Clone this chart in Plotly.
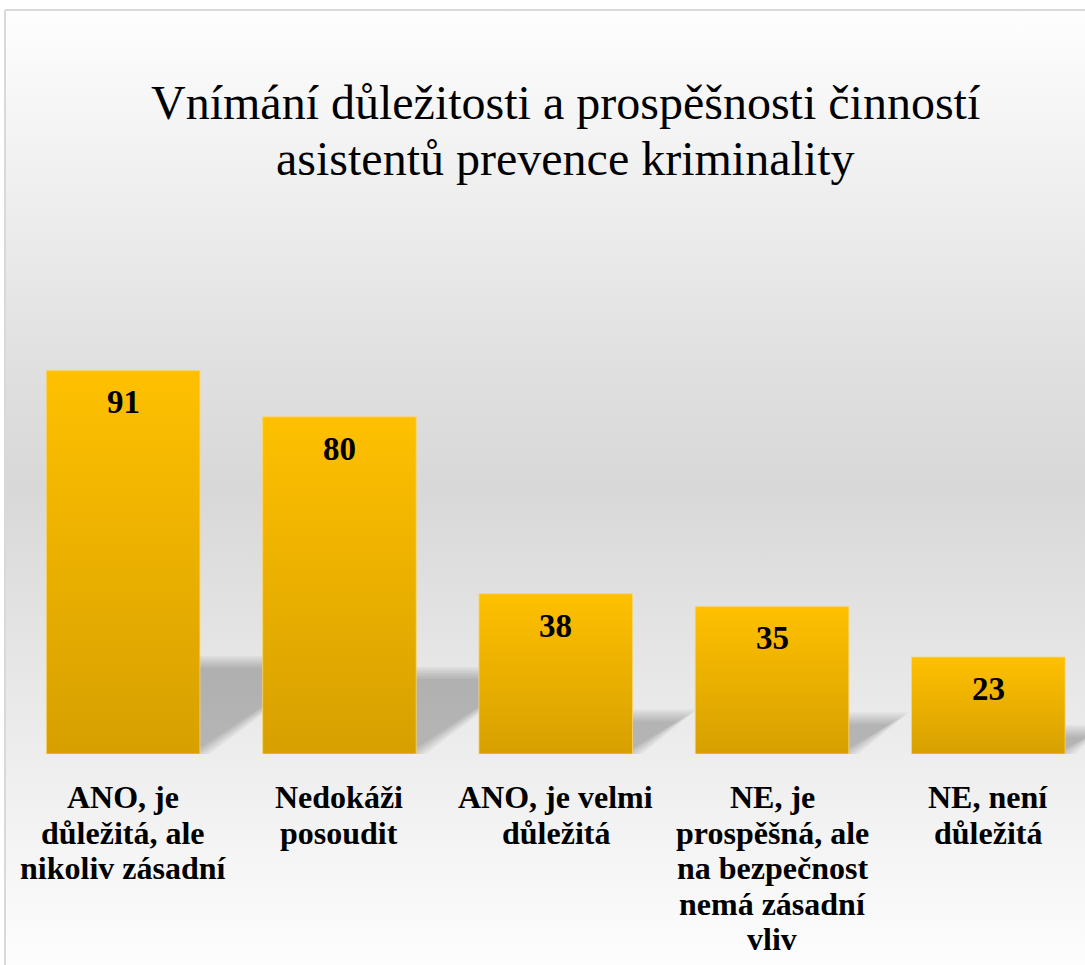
import plotly.graph_objects as go

# ---- data -------------------------------------------------------------
categories = [
    "ANO, je\ndůležitá, ale\nnikoliv zásadní",
    "Nedokáži\nposoudit",
    "ANO, je velmi\ndůležitá",
    "NE, je\nprospěšná, ale\nna bezpečnost\nnemá zásadní\nvliv",
    "NE, není\ndůležitá",
]
values = [91, 80, 38, 35, 23]
title_lines = [
    "Vnímání důležitosti a prospěšnosti činností",
    "asistentů prevence kriminality",
]

# ---- geometry / style -------------------------------------------------
W, H = 1085, 965
SERIF = "Liberation Serif, Times New Roman, serif"
BAR_W = 0.71                     # bar width in category units
X_RANGE = [-0.5, 4.447]          # last category partly clipped by the frame
Y_RANGE = [0, 100]
PX_PER_CAT = (W - 15) / (X_RANGE[1] - X_RANGE[0])
Y_DOM = [1 - 754 / H, 1 - (754 - 421.5) / H]
PX_PER_UNIT = (Y_DOM[1] - Y_DOM[0]) * H / (Y_RANGE[1] - Y_RANGE[0])

fig = go.Figure()

# soft grey backdrop of the chart area (gradient fill)
fig.add_trace(go.Scatter(
    x=[0, 1, 1, 0, 0], y=[0, 0, 1, 1, 0],
    xaxis="x", yaxis="y", mode="lines", line=dict(width=0),
    fill="toself",
    fillgradient=dict(type="vertical", colorscale=[
        [0.00, "#fdfdfd"],
        [0.21, "#eeeeee"],
        [0.33, "#e5e5e5"],
        [0.50, "#d8d8d8"],
        [0.63, "#e0e0e0"],
        [0.80, "#eeeeee"],
        [1.00, "#fefefe"],
    ]),
    hoverinfo="skip", showlegend=False,
))

# perspective shadows cast behind each bar (stacked layers = blurred edge)
N_LAYERS = 7
BLUR_PX = 6
for i, v in enumerate(values):
    xl, xr = i - BAR_W / 2, i + BAR_W / 2
    h_px = v * PX_PER_UNIT
    dx = 0.34 * h_px / PX_PER_CAT
    top = 0.24 * v
    for k in range(N_LAYERS):
        e = BLUR_PX * (1 - 2 * k / (N_LAYERS - 1))   # +r .. -r
        ex = 1.6 * e / PX_PER_CAT
        ey = e / PX_PER_UNIT
        xs = [xl, xr + ex, xr + dx + ex, xl + dx, xl]
        ys = [0, 0, top + ey, top + ey, 0]
        fig.add_trace(go.Scatter(
            x=xs, y=ys, xaxis="x2", yaxis="y2", mode="lines",
            line=dict(width=0), fill="toself",
            fillcolor="rgba(70,70,70,0.055)",
            hoverinfo="skip", showlegend=False,
        ))

# gold bars with vertical gradient
for i, (c, v) in enumerate(zip(categories, values)):
    xl, xr = i - BAR_W / 2, i + BAR_W / 2
    fig.add_trace(go.Scatter(
        x=[xl, xr, xr, xl, xl], y=[0, 0, v, v, 0],
        xaxis="x2", yaxis="y2", mode="lines",
        line=dict(width=1, color="rgba(250,214,110,0.8)"),
        fill="toself",
        fillgradient=dict(type="vertical",
                          colorscale=[[0, "#d6a000"], [1, "#ffc000"]]),
        name=c.replace("\n", " "), hoveron="fills",
        showlegend=False,
    ))

annotations = []
# value labels just under the top of each bar
for i, v in enumerate(values):
    annotations.append(dict(
        x=i, y=v, xref="x2", yref="y2", yanchor="middle", yshift=-32,
        text=str(v), showarrow=False,
        font=dict(family=SERIF, size=33, color="black", weight="bold"),
    ))

# category labels below the baseline, one line each
LINE_H = 35.5
for i, c in enumerate(categories):
    for j, line in enumerate(c.split("\n")):
        annotations.append(dict(
            x=i, y=1 - (797 + LINE_H * j) / H, xref="x2", yref="paper",
            yanchor="middle", text=line, showarrow=False,
            font=dict(family=SERIF, size=32, color="black", weight="bold"),
        ))

# two-line title
for j, t in enumerate(title_lines):
    annotations.append(dict(
        x=565 / W, y=1 - (103 + 55 * j) / H, xref="paper", yref="paper",
        xanchor="center", yanchor="middle", text=t, showarrow=False,
        font=dict(family=SERIF, size=48, color="black"),
    ))

# chart frame (left and top edges)
shapes = [
    dict(type="line", xref="paper", yref="paper",
         x0=5 / W, x1=5 / W, y0=0, y1=1 - 10 / H,
         line=dict(color="#d9d9d9", width=2), layer="above"),
    dict(type="line", xref="paper", yref="paper",
         x0=5 / W, x1=1, y0=1 - 10 / H, y1=1 - 10 / H,
         line=dict(color="#d9d9d9", width=2), layer="above"),
]

fig.update_layout(
    width=W, height=H,
    margin=dict(l=0, r=0, t=0, b=0),
    paper_bgcolor="white", plot_bgcolor="rgba(0,0,0,0)",
    showlegend=False,
    xaxis=dict(domain=[6 / W, 1], range=[0, 1], visible=False, fixedrange=True),
    yaxis=dict(domain=[0, 1 - 10 / H], range=[0, 1], visible=False, fixedrange=True),
    xaxis2=dict(domain=[15 / W, 1], range=X_RANGE, visible=False,
                anchor="y2", fixedrange=True),
    yaxis2=dict(domain=Y_DOM, range=Y_RANGE, visible=False,
                anchor="x2", fixedrange=True),
    annotations=annotations,
    shapes=shapes,
)

fig.write_html("out.html")
